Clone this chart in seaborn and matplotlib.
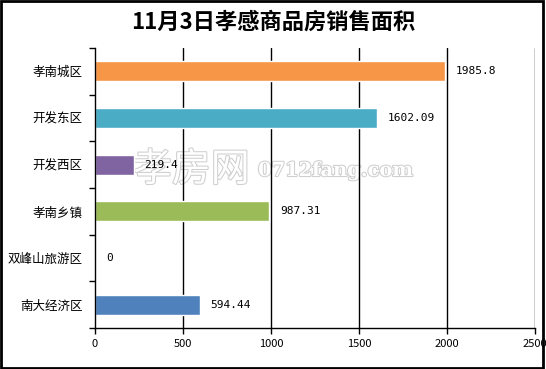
import matplotlib
matplotlib.use("Agg")
import matplotlib.pyplot as plt
import matplotlib.patheffects as pe
from matplotlib.patches import Rectangle
import seaborn as sns
import pandas as pd

categories = ["孝南城区", "开发东区", "开发西区", "孝南乡镇", "双峰山旅游区", "南大经济区"]
values = [1985.8, 1602.09, 219.4, 987.31, 0, 594.44]
labels = ["1985.8", "1602.09", "219.4", "987.31", "0", "594.44"]
colors = ["#F79646", "#4BACC6", "#8064A2", "#9BBB59", "#4F81BD", "#4F81BD"]
xticks = [0, 500, 1000, 1500, 2000, 2500]
title = "11月3日孝感商品房销售面积"

sns.set_theme(style="white")
plt.rcParams["font.family"] = ["Noto Sans CJK SC", "DejaVu Sans"]

df = pd.DataFrame({"cat": categories, "val": values})

fig = plt.figure(figsize=(5.46, 3.69), dpi=100, facecolor="white")
ax = fig.add_axes([95 / 546, 1 - 328 / 369, 440 / 546, 280 / 369])
ax.patch.set_visible(False)

sns.barplot(data=df, y="cat", x="val", hue="cat", palette=colors[:len(categories)],
            orient="h", width=0.43, legend=False, ax=ax, saturation=1)

ax.set_xlim(0, 2500)
ax.set_ylim(len(categories) - 0.5, -0.5)
ax.set_xticks(xticks)
ax.set_xticklabels([str(t) for t in xticks], fontsize=8, color="#000000")
ax.set_yticks(range(len(categories)))
ax.set_yticklabels(categories, fontsize=9, color="#000000")
ax.set_xlabel("")
ax.set_ylabel("")

# minor ticks at category boundaries on y axis
ax.set_yticks([i - 0.5 for i in range(len(categories) + 1)], minor=True)
ax.tick_params(axis="y", which="major", length=0, pad=9)
ax.tick_params(axis="y", which="minor", length=4, width=1, color="black", direction="out", left=True)
ax.tick_params(axis="x", which="major", length=4, width=1, color="black", direction="out", bottom=True, pad=4)

for x in xticks[1:]:
    ax.axvline(x, color="black", linewidth=1, zorder=0)

for s in ["top", "right"]:
    ax.spines[s].set_visible(False)
for s in ["left", "bottom"]:
    ax.spines[s].set_visible(True)
    ax.spines[s].set_color("black")
    ax.spines[s].set_linewidth(1)

for i, (v, lab) in enumerate(zip(values, labels)):
    ax.annotate(lab, xy=(v, i), xytext=(11, 0), textcoords="offset pixels",
                ha="left", va="center", fontsize=8, color="black",
                family=["DejaVu Sans Mono", "DejaVu Sans"], zorder=6)

# watermark (behind the axes content)
fig.text(133 / 546, 1 - 170 / 369, "孝房网", fontsize=28, color="white", ha="left", va="center",
         path_effects=[pe.withStroke(linewidth=1.5, foreground="#cfcfcf")], zorder=-1)
fig.text(258 / 546, 1 - 171 / 369, "0712fang.com", fontsize=14, color="white", ha="left", va="center",
         family=["DejaVu Serif"], fontweight="bold",
         path_effects=[pe.withStroke(linewidth=1.5, foreground="#cfcfcf")], zorder=-1)

fig.text(0.5, 1 - 22 / 369, title, fontsize=16, fontweight="bold", ha="center", va="center",
         color="black")

fig.patches.append(Rectangle((0.002, 0.004), 0.992, 0.992, transform=fig.transFigure,
                             fill=False, edgecolor="black", linewidth=2, zorder=10))

fig.savefig("out.png", dpi=100, facecolor="white")
